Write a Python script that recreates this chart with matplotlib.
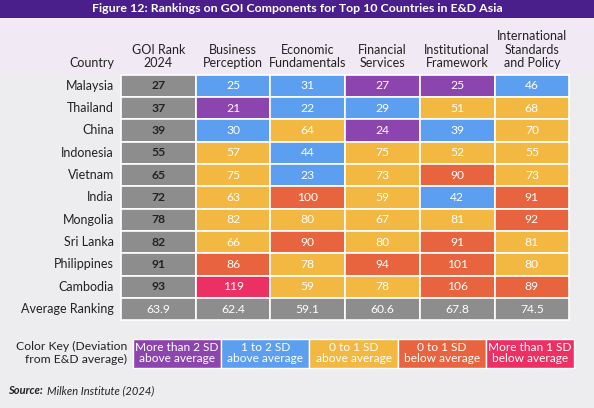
import matplotlib
matplotlib.use("Agg")
import matplotlib.pyplot as plt
from matplotlib.patches import Rectangle

plt.rcParams['font.family'] = ['Lato', 'DejaVu Sans']

title = "Figure 12: Rankings on GOI Components for Top 10 Countries in E&D Asia"
countries = ["Malaysia", "Thailand", "China", "Indonesia", "Vietnam", "India",
             "Mongolia", "Sri Lanka", "Philippines", "Cambodia"]
col_headers = ["GOI Rank\n2024", "Business\nPerception", "Economic\nFundamentals",
               "Financial\nServices", "Institutional\nFramework",
               "International\nStandards\nand Policy"]
goi_rank = [27, 37, 39, 55, 65, 72, 78, 82, 91, 93]
business = [25, 21, 30, 57, 75, 63, 82, 66, 86, 119]
economic = [31, 22, 64, 44, 23, 100, 80, 90, 78, 59]
financial = [27, 29, 24, 75, 73, 59, 67, 80, 94, 78]
institutional = [25, 51, 39, 52, 90, 42, 81, 91, 101, 106]
international = [46, 68, 70, 55, 73, 91, 92, 81, 80, 89]
averages = ["63.9", "62.4", "59.1", "60.6", "67.8", "74.5"]
# color category per cell: P=>2SD above, B=1-2SD above, Y=0-1 above, O=0-1 below, R=>1SD below
business_cat = ["B", "P", "B", "Y", "Y", "Y", "Y", "Y", "O", "R"]
economic_cat = ["B", "B", "Y", "B", "B", "O", "Y", "O", "Y", "Y"]
financial_cat = ["P", "B", "P", "Y", "Y", "Y", "Y", "Y", "O", "Y"]
institutional_cat = ["P", "Y", "B", "Y", "O", "B", "Y", "O", "O", "O"]
international_cat = ["B", "Y", "Y", "Y", "Y", "O", "O", "Y", "Y", "O"]
key_labels = ["More than 2 SD\nabove average", "1 to 2 SD\nabove average",
              "0 to 1 SD\nabove average", "0 to 1 SD\nbelow average",
              "More than 1 SD\nbelow average"]
key_codes = ["P", "B", "Y", "O", "R"]

palette = {"P": "#8c45ae", "B": "#5c9ef0", "Y": "#f2b842",
           "O": "#e8643e", "R": "#ec3063", "G": "#8d8d8d"}

W, H = 594, 408
fig = plt.figure(figsize=(W / 100, H / 100), dpi=100)
fig.patch.set_facecolor("#ededef")
ax = fig.add_axes([0, 0, 1, 1])
ax.set_xlim(0, W)
ax.set_ylim(H, 0)
ax.axis("off")

# header backgrounds
ax.add_patch(Rectangle((0, 17), W, 57, facecolor="#f1eaf4", edgecolor="none"))
ax.add_patch(Rectangle((0, 0), W, 17.5, facecolor="#4a1f8c", edgecolor="none"))
ax.text(W / 2, 9, title, color="white", fontsize=8.9, fontweight="bold",
        ha="center", va="center")

x0, cw = 121, 74.7
y0, rh = 74.5, 22.35

value_cols = [goi_rank, business, economic, financial, institutional, international]
cat_cols = [["G"] * 10, business_cat, economic_cat, financial_cat,
            institutional_cat, international_cat]

ax.text(x0 - 7, 67, "Country", fontsize=9, ha="right", va="baseline", color="#222222")
for j, hdr in enumerate(col_headers):
    ax.text(x0 + (j + 0.5) * cw, 67, hdr, fontsize=9, ha="center", va="baseline",
            color="#222222", linespacing=1.15, multialignment="center")

for i, c in enumerate(countries):
    yc = y0 + (i + 0.5) * rh
    ax.text(x0 - 7, yc, c, fontsize=9, ha="right", va="center", color="#222222")
    for j in range(6):
        code = cat_cols[j][i]
        ax.add_patch(Rectangle((x0 + j * cw, y0 + i * rh), cw, rh,
                               facecolor=palette[code], edgecolor="white", lw=1.2))
        tc = "#222222" if code == "G" else "white"
        ax.text(x0 + (j + 0.5) * cw, yc, str(value_cols[j][i]), fontsize=8.7,
                ha="center", va="center", color=tc,
                fontweight="bold" if code == "G" else "normal")

yc = y0 + 10.5 * rh
ax.text(x0 - 7, yc, "Average Ranking", fontsize=9, ha="right", va="center", color="#222222")
for j, a in enumerate(averages):
    ax.add_patch(Rectangle((x0 + j * cw, y0 + 10 * rh), cw, rh,
                           facecolor=palette["G"], edgecolor="white", lw=1.2))
    ax.text(x0 + (j + 0.5) * cw, yc, a, fontsize=8.7, ha="center", va="center", color="white")

# color key
kx0, kw, ky, kh = 133, 88.2, 338.5, 29
ax.text(kx0 - 6, ky + kh / 2, "Color Key (Deviation\nfrom E&D average)", fontsize=8.7,
        ha="right", va="center", color="#222222", linespacing=1.15,
        multialignment="right")
for k, (lab, code) in enumerate(zip(key_labels, key_codes)):
    ax.add_patch(Rectangle((kx0 + k * kw, ky), kw, kh, facecolor=palette[code],
                           edgecolor="white", lw=1))
    ax.text(kx0 + (k + 0.5) * kw, ky + kh / 2, lab, fontsize=8.6, ha="center",
            va="center", color="white", linespacing=1.05)

ax.text(8, 391, "Source:", fontsize=8, fontweight="bold", fontstyle="italic",
        ha="left", va="center", color="#222222")
ax.text(47, 391, "Milken Institute (2024)", fontsize=8, fontstyle="italic",
        ha="left", va="center", color="#222222")

fig.savefig("out.png", dpi=100, facecolor=fig.get_facecolor())
